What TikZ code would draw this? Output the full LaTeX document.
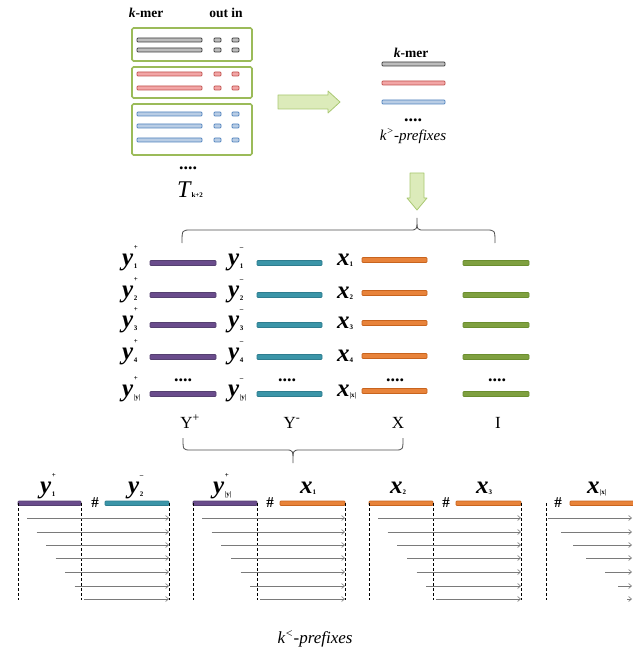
\documentclass[tikz,border=0pt]{standalone}
\usepackage{fontspec}
\setmainfont{Liberation Serif}
\usetikzlibrary{arrows.meta}
\definecolor{boxgreen}{HTML}{9BBB59}
\definecolor{arrfill}{HTML}{DCEBBA}
\definecolor{arrdraw}{HTML}{A9C872}
\definecolor{kdraw}{HTML}{3A3A3A}
\definecolor{kfill}{HTML}{BDBDBD}
\definecolor{rdraw}{HTML}{C0504D}
\definecolor{rfill}{HTML}{F2A6A6}
\definecolor{bdraw}{HTML}{4F81BD}
\definecolor{bfill}{HTML}{B9CDE5}
\definecolor{pfill}{HTML}{6A4C8C}
\definecolor{pdraw}{HTML}{554070}
\definecolor{tfill}{HTML}{3B95A8}
\definecolor{tdraw}{HTML}{2E7D8F}
\definecolor{ofill}{HTML}{E8833A}
\definecolor{odraw}{HTML}{C8641E}
\definecolor{gfill}{HTML}{7FA040}
\definecolor{gdraw}{HTML}{6B8E2F}
\definecolor{arrgray}{HTML}{7A7A7A}
\newcommand\yl[2]{{\fontsize{25}{25}\selectfont\bfseries\itshape y}\kern0.5pt\rlap{\raisebox{16pt}{\fontsize{7}{7}\selectfont\bfseries #1}}\raisebox{-3pt}{\fontsize{7}{7}\selectfont\bfseries #2}}
\newcommand\xl[1]{{\fontsize{25}{25}\selectfont\bfseries\itshape x}\raisebox{-1pt}{\fontsize{7}{7}\selectfont\bfseries #1}}
\tikzset{
  tbox/.style={draw=boxgreen, line width=1.6pt, rounded corners=1.5pt},
  barshape/.style={rounded corners=0.8pt, line width=0.7pt},
  lbl/.style={inner sep=0pt, anchor=base west},
  ctr/.style={inner sep=0pt, anchor=center},
  bold13/.style={font=\fontsize{13.5}{13.5}\selectfont\bfseries},
  dotsty/.style={inner sep=0pt, anchor=base, font=\fontsize{18}{18}\selectfont\bfseries},
  hashsty/.style={inner sep=0pt, anchor=center, font=\fontsize{15}{15}\selectfont\bfseries},
  colsty/.style={inner sep=0pt, anchor=base, font=\fontsize{17}{17}\selectfont},
  prefarr/.style={draw=arrgray, line width=0.6pt, -{Straight Barb[length=3pt,width=5pt]}},
  vdash/.style={line width=0.7pt, dash pattern=on 3pt off 2pt},
  brace/.style={draw=black!70, line width=0.8pt},
  bigarr/.style={fill=arrfill, draw=arrdraw, line width=0.8pt, line join=round},
}
\begin{document}
\begin{tikzpicture}[x=1pt,y=-1pt]
\useasboundingbox (0,0) rectangle (632,652);

% ---------- top-left table ----------
\node[bold13, ctr] (kmerA) at (146,13) {\textit{k}-mer};
\node[bold13, ctr] (outin) at (226,13) {out in};
\draw[tbox] (132,28) rectangle (252,61);
\draw[tbox] (132,67) rectangle (252,98);
\draw[tbox] (132,104) rectangle (252,155);
\foreach \yy/\dc/\fc in {40/kdraw/kfill,50/kdraw/kfill,74/rdraw/rfill,88/rdraw/rfill,114/bdraw/bfill,126/bdraw/bfill,140/bdraw/bfill}{
  \draw[barshape, draw=\dc, fill=\fc] (137,\yy-2) rectangle (202,\yy+2);
  \draw[barshape, draw=\dc, fill=\fc] (214,\yy-2) rectangle (221,\yy+2);
  \draw[barshape, draw=\dc, fill=\fc] (232,\yy-2) rectangle (239,\yy+2);
}
\node[dotsty] (dotsA) at (188,170) {....};
\node[lbl] (Tlab) at (177,197) {{\fontsize{24}{24}\selectfont\itshape T}\kern1pt{\fontsize{7}{7}\selectfont\bfseries k+2}};

% ---------- right arrow ----------
\draw[bigarr] (278,95) -- (328,95) -- (328,91) -- (340,102) -- (328,113) -- (328,109) -- (278,109) -- cycle;

% ---------- k> prefixes ----------
\node[bold13, ctr] (kmerB) at (411,53) {\textit{k}-mer};
\foreach \yy/\dc/\fc in {64/kdraw/kfill,83/rdraw/rfill,102/bdraw/bfill}{
  \draw[barshape, draw=\dc, fill=\fc] (382,\yy-2) rectangle (445,\yy+2);
}
\node[dotsty] (dotsB) at (413,122) {....};
\node[ctr, font=\fontsize{15}{15}\selectfont\itshape] (kgt) at (413,136) {k\textsuperscript{>}-prefixes};

% ---------- down arrow ----------
\draw[bigarr] (410,173) -- (424,173) -- (424,198) -- (427,198) -- (417,210) -- (407,198) -- (410,198) -- cycle;

% ---------- brace 1 ----------
\draw[brace] (182,243) .. controls (182,230) .. (191,230) -- (410,230)
  .. controls (417,230) .. (417,218) .. controls (417,230) .. (424,230)
  -- (486,230) .. controls (495,230) .. (495,243);

% ---------- middle columns ----------
\foreach \yy/\a/\b [count=\i] in {263/+/1,295/+/2,325/+/3,357/+/4,394/+/{|y|}}{
  \draw[barshape, draw=pdraw, fill=pfill] (150,\yy-2.5) rectangle (216,\yy+2.5);
  \draw[barshape, draw=tdraw, fill=tfill] (257,\yy-2.5) rectangle (322,\yy+2.5);
  \draw[barshape, draw=gdraw, fill=gfill] (463,\yy-2.5) rectangle (529,\yy+2.5);
}
\node[lbl] (yp1) at (122,265) {\yl{+}{1}};
\node[lbl] (yp2) at (122,297) {\yl{+}{2}};
\node[lbl] (yp3) at (122,327) {\yl{+}{3}};
\node[lbl] (yp4) at (122,359) {\yl{+}{4}};
\node[lbl] (ypn) at (122,396) {\yl{+}{|y|}};
\node[lbl] (ym1) at (228,265) {\yl{--}{1}};
\node[lbl] (ym2) at (228,297) {\yl{--}{2}};
\node[lbl] (ym3) at (228,327) {\yl{--}{3}};
\node[lbl] (ym4) at (228,359) {\yl{--}{4}};
\node[lbl] (ymn) at (228,396) {\yl{--}{|y|}};
\foreach \yy in {260,293,323,356,391}{
  \draw[barshape, draw=odraw, fill=ofill] (362,\yy-2.5) rectangle (427,\yy+2.5);
}
\node[lbl] (x1) at (337,265) {\xl{1}};
\node[lbl] (x2) at (337,298) {\xl{2}};
\node[lbl] (x3) at (337,328) {\xl{3}};
\node[lbl] (x4) at (337,361) {\xl{4}};
\node[lbl] (xn) at (337,396) {\xl{|x|}};
\node[dotsty] (dY1) at (183,381) {....};
\node[dotsty] (dY2) at (287,381) {....};
\node[dotsty] (dX) at (395,381) {....};
\node[dotsty] (dI) at (497,381) {....};
\node[colsty] (Yp) at (190,428) {Y\textsuperscript{+}};
\node[colsty] (Ym) at (292,428) {Y\textsuperscript{-}};
\node[colsty] (Xc) at (398,428) {X};
\node[colsty] (Ic) at (498,428) {I};

% ---------- brace 2 ----------
\draw[brace] (183,438) .. controls (183,450) .. (191,450) -- (286,450)
  .. controls (293,450) .. (293,463) .. controls (293,450) .. (300,450)
  -- (395,450) .. controls (403,450) .. (403,438);

% ---------- bottom groups ----------
% group 1
\draw[barshape, draw=pdraw, fill=pfill] (18,501) rectangle (81,505.5);
\draw[barshape, draw=tdraw, fill=tfill] (105,501) rectangle (169,505.5);
\node[hashsty] (h1) at (95,503) {\#};
\node[lbl] (b1a) at (40,493) {\yl{+}{1}};
\node[lbl] (b1b) at (128,493) {\yl{--}{2}};
% group 2
\draw[barshape, draw=pdraw, fill=pfill] (193,501) rectangle (257,505.5);
\draw[barshape, draw=odraw, fill=ofill] (280,501) rectangle (345,505.5);
\node[hashsty] (h2) at (270,503) {\#};
\node[lbl] (b2a) at (213,493) {\yl{+}{|y|}};
\node[lbl] (b2b) at (300,493) {\xl{1}};
% group 3
\draw[barshape, draw=odraw, fill=ofill] (369,501) rectangle (433,505.5);
\draw[barshape, draw=odraw, fill=ofill] (456,501) rectangle (521,505.5);
\node[hashsty] (h3) at (446,503) {\#};
\node[lbl] (b3a) at (390,493) {\xl{2}};
\node[lbl] (b3b) at (476,493) {\xl{3}};
% group 4
\draw[barshape, draw=odraw, fill=ofill] (570,501) rectangle (640,505.5);
\node[hashsty] (h4) at (558,503) {\#};
\node[lbl] (b4a) at (587,493) {\xl{|x|}};

% dashed guides and prefix arrows
\foreach \L/\M/\R in {18/81/169,193/257/345,369/433/521}{
  \draw[vdash] (\L,503) -- (\L,600);
  \draw[vdash] (\M,503) -- (\M,600);
  \draw[vdash] (\R,503) -- (\R,600);
  \foreach \k/\yy in {0/518,1/532,2/545,3/558,4/572,5/586,6/599}{
    \coordinate (s) at ({\L+9+\k*(\M+3-\L-9)/6},\yy);
    \coordinate (e) at (\R,\yy);
    \draw[prefarr] (s) -- (e);
  }
}
\draw[vdash] (546,503) -- (546,600);
\foreach \sx/\yy in {548/518,561/532,573/545,586/558,605/572,618/586,627/599}{
  \coordinate (s) at (\sx,\yy);
  \coordinate (e) at (632,\yy);
  \draw[prefarr] (s) -- (e);
}

% ---------- caption ----------
\node[ctr, font=\fontsize{17}{17}\selectfont\itshape] (klt) at (315,639) {k\textsuperscript{<}-prefixes};
\end{tikzpicture}
\end{document}
